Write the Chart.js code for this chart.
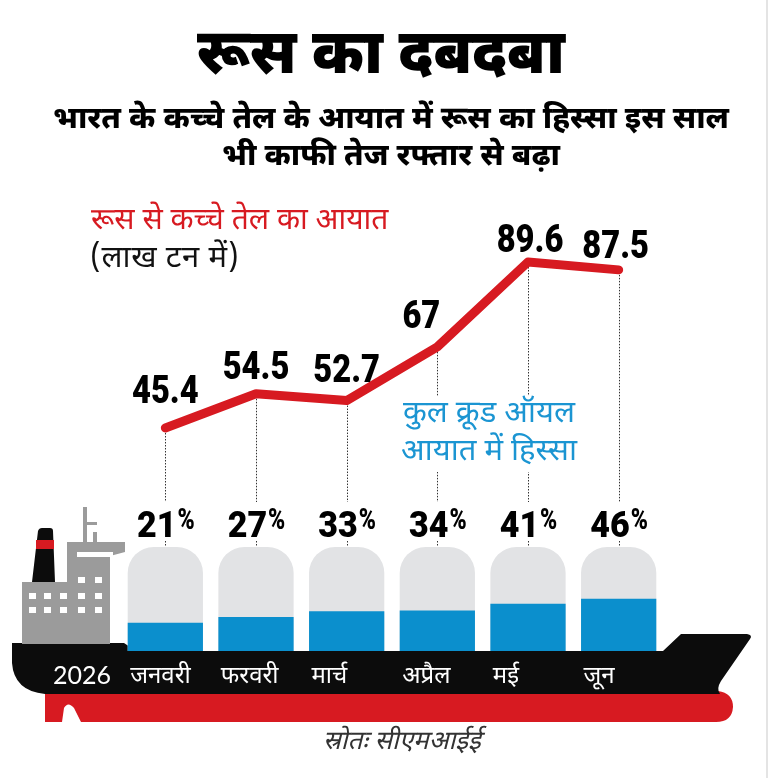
<!DOCTYPE html>
<html>
<head>
<meta charset="utf-8">
<script src="https://cdn.jsdelivr.net/npm/chart.js@4.4.1/dist/chart.umd.min.js"></script>
<style>
    html, body { margin: 0; padding: 0; background: #fff; }
    body { width: 770px; height: 778px; position: relative; overflow: hidden;
           font-family: "Noto Sans Devanagari", "Lohit Devanagari", "Noto Sans", sans-serif; }
    #wrap { position: absolute; left: 0; top: 0; width: 770px; height: 778px; }
    .txt { position: absolute; white-space: nowrap; }
    #title { left: -4px; width: 770px; top: 17px; text-align: center; font-size: 63px; font-weight: 900; color: #000;
             transform: scaleX(0.95); }
    #subtitle { left: 6px; width: 770px; top: 102px; text-align: center; font-size: 31px; font-weight: 800; line-height: 37px; color: #000; }
    #legendRed { left: 91px; top: 202px; font-size: 30px; color: #d71a21; }
    #legendUnit { left: 90px; top: 239px; font-size: 31px; letter-spacing: 0.6px; color: #111; }
    #legendBlue { left: 396px; top: 396px; width: 186px; text-align: center; font-size: 31px; line-height: 38px; color: #1b95d2; background: #fff; }
    #source { left: 323px; top: 726px; font-size: 26px; font-style: italic; color: #333; }
    #edge { position: absolute; left: 766px; top: 0; width: 2px; height: 778px; background: #e4e4e4; }
</style>
</head>
<body>
<div id="wrap"><canvas id="shipChart" width="770" height="778"></canvas></div>
<div class="txt" id="title">रूस का दबदबा</div>
<div class="txt" id="subtitle">भारत के कच्चे तेल के आयात में रूस का हिस्सा इस साल<br>भी काफी तेज रफ्तार से बढ़ा</div>
<div class="txt" id="legendRed">रूस से कच्चे तेल का आयात</div>
<div class="txt" id="legendUnit">(लाख टन में)</div>
<div class="txt" id="legendBlue">कुल क्रूड ऑयल<br>आयात में हिस्सा</div>
<div class="txt" id="source">स्रोतः सीएमआईई</div>
<div id="edge"></div>

<script>
// data
const months = ['जनवरी', 'फरवरी', 'मार्च', 'अप्रैल', 'मई', 'जून'];
const importFromRussia = [45.4, 54.5, 52.7, 67, 89.6, 87.5];   // lakh tonnes
const russiaShare = [21, 27, 33, 34, 41, 46];                     // % of total crude import
const tankFull = [100, 100, 100, 100, 100, 100];
const yearLabel = '2026';

const RED = '#d71a21';
const BLUE = '#0b8fcd';
const TANK = '#e2e3e5';
const HULL = '#0c0c0c';
const DECK_GREY = '#9b9b9b';
const NUM_FONT = 'Roboto, "Liberation Sans", sans-serif';
const DEV_FONT = '"Noto Sans Devanagari", "Lohit Devanagari", "Noto Sans", sans-serif';

// condensed text: squeeze horizontally around the left edge
function squeezeText(c, str, x, y, sx) {
    c.save();
    c.translate(x, y);
    c.scale(sx, 1);
    c.fillText(str, 0, 0);
    c.restore();
}

// ship hull + superstructure, drawn under the tanks
const shipPlugin = {
    id: 'ship',
    beforeDatasetsDraw(chart) {
        const c = chart.ctx;
        const deck = chart.chartArea.bottom;
        c.save();
        // red keel
        c.fillStyle = RED;
        c.beginPath();
        c.moveTo(45, deck + 40);
        c.lineTo(718, deck + 40);
        c.quadraticCurveTo(733, deck + 42, 733, deck + 56);
        c.quadraticCurveTo(732, deck + 71, 716, deck + 71);
        c.lineTo(81, deck + 71);
        c.lineTo(74, deck + 57);
        c.quadraticCurveTo(68, deck + 50, 64, deck + 57);
        c.lineTo(62, deck + 71);
        c.lineTo(45, deck + 71);
        c.closePath();
        c.fill();
        // black hull
        c.fillStyle = HULL;
        c.beginPath();
        c.moveTo(12, deck - 8);
        c.lineTo(124, deck - 8);
        c.lineTo(136, deck);
        c.lineTo(663, deck);
        c.lineTo(681, deck - 17);
        c.lineTo(747, deck - 17);
        c.quadraticCurveTo(753, deck - 16, 750, deck - 12);
        c.lineTo(721, deck + 30);
        c.quadraticCurveTo(716, deck + 38, 720, deck + 43);
        c.lineTo(45, deck + 43);
        c.quadraticCurveTo(14, deck + 40, 12, deck + 12);
        c.closePath();
        c.fill();
        // superstructure
        c.fillStyle = DECK_GREY;
        c.fillRect(22, deck - 69, 88, 62);
        c.beginPath();
        c.moveTo(67, deck - 109);
        c.lineTo(125, deck - 109);
        c.lineTo(125, deck - 99);
        c.lineTo(110, deck - 95);
        c.lineTo(110, deck - 7);
        c.lineTo(67, deck - 7);
        c.closePath();
        c.fill();
        c.fillRect(83, deck - 144, 4, 36);
        c.fillRect(86, deck - 129, 11, 3);
        c.fillRect(93, deck - 119, 4, 11);
        // funnel
        c.fillStyle = HULL;
        c.beginPath();
        c.moveTo(32, deck - 69);
        c.lineTo(38, deck - 120);
        c.quadraticCurveTo(39, deck - 123, 42, deck - 123);
        c.lineTo(50, deck - 123);
        c.quadraticCurveTo(53, deck - 123, 53, deck - 120);
        c.lineTo(55, deck - 69);
        c.closePath();
        c.fill();
        c.fillStyle = RED;
        c.fillRect(36, deck - 111, 18, 9);
        // windows
        c.fillStyle = '#fff';
        c.fillRect(77, deck - 99, 36, 5);
        [78, 95].forEach(x => c.fillRect(x, deck - 74, 7, 6));
        [29, 44, 60, 78, 95].forEach(x => {
            c.fillRect(x, deck - 58, 7, 6);
            c.fillRect(x, deck - 44, 7, 6);
        });
        // dotted guides from each line point to its tank
        const pts = chart.getDatasetMeta(0).data;
        c.strokeStyle = '#333';
        c.lineWidth = 1;
        c.setLineDash([1.5, 1.5]);
        pts.forEach(p => {
            const x = Math.round(p.x) + 0.5;
            c.beginPath();
            c.moveTo(x, p.y + 5);
            c.lineTo(x, deck - 149);
            c.moveTo(x, deck - 110);
            c.lineTo(x, deck - 104);
            c.stroke();
        });
        c.restore();
    },
    afterDraw(chart) {
        const c = chart.ctx;
        const deck = chart.chartArea.bottom;
        const xs = chart.scales.x;
        const pts = chart.getDatasetMeta(0).data;
        const shift = [[0, -25], [0, -15], [0, -19], [-16, -19], [2, -10], [-3, -12]];
        const sx = 0.86;
        c.save();
        c.fillStyle = '#000';
        c.textAlign = 'left';
        c.textBaseline = 'alphabetic';
        c.font = '900 38px ' + NUM_FONT;
        pts.forEach((p, i) => {
            const s = String(importFromRussia[i]);
            const w = c.measureText(s).width * sx;
            squeezeText(c, s, p.x + shift[i][0] - w / 2, p.y + shift[i][1], sx);
        });
        // share labels over tanks
        russiaShare.forEach((v, i) => {
            const cx = xs.getPixelForValue(i);
            c.font = '900 37px ' + NUM_FONT;
            const w1 = c.measureText(String(v)).width * 0.92;
            c.font = '900 29px ' + NUM_FONT;
            const w2 = c.measureText('%').width * 0.8;
            const left = cx - (w1 + w2) / 2;
            c.font = '900 37px ' + NUM_FONT;
            squeezeText(c, String(v), left, deck - 114, 0.92);
            c.font = '900 29px ' + NUM_FONT;
            squeezeText(c, '%', left + w1 + 1, deck - 122, 0.8);
        });
        // month names on the hull
        c.fillStyle = '#fff';
        c.font = '24px ' + DEV_FONT;
        months.forEach((m, i) => {
            const x0 = xs.getPixelForValue(i) - xs.width / months.length * 0.41;
            c.fillText(m, x0 + 2, deck + 32);
        });
        c.font = '25px Lato, "Open Sans", sans-serif';
        c.fillText(yearLabel, 53, deck + 33);
        c.restore();
    }
};

const ctx = document.getElementById('shipChart').getContext('2d');
const shipChart = new Chart(ctx, {
    data: {
        labels: months,
        datasets: [{
            type: 'line',
            label: 'रूस से कच्चे तेल का आयात',
            data: importFromRussia,
            yAxisID: 'y',
            borderColor: RED,
            borderWidth: 9,
            borderCapStyle: 'round',
            borderJoinStyle: 'round',
            pointRadius: 0,
            tension: 0,
            order: 0
        }, {
            type: 'bar',
            label: 'हिस्सा',
            data: russiaShare,
            yAxisID: 'y2',
            base: -8.3,
            backgroundColor: BLUE,
            grouped: false,
            barPercentage: 0.83,
            categoryPercentage: 1,
            order: 1
        }, {
            type: 'bar',
            label: 'टैंक',
            data: tankFull,
            yAxisID: 'y2',
            base: -8.3,
            backgroundColor: TANK,
            borderRadius: { topLeft: 26, topRight: 26, bottomLeft: 0, bottomRight: 0 },
            borderSkipped: false,
            grouped: false,
            barPercentage: 0.83,
            categoryPercentage: 1,
            order: 2
        }]
    },
    options: {
        responsive: false,
        animation: false,
        events: [],
        layout: { padding: { left: 120, right: 106, top: 240, bottom: 127 } },
        plugins: { legend: { display: false }, tooltip: { enabled: false } },
        scales: {
            x: { type: 'category', display: false, offset: true },
            y: { display: false, min: -13.98, max: 95.45 },
            y2: { display: false, min: -8.3, max: 419.7 }
        }
    },
    plugins: [shipPlugin]
});
</script>
</body>
</html>
